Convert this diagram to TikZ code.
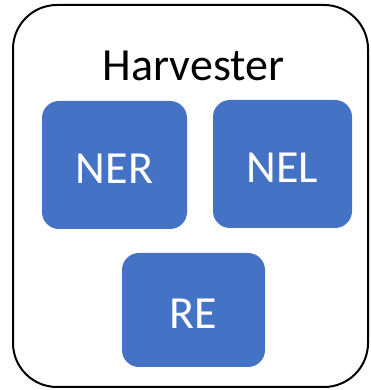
\documentclass[tikz,border=0pt]{standalone}
\usepackage{fontspec}
\setmainfont{Carlito}
\definecolor{officeblue}{HTML}{4472C4}
\tikzset{
  frame/.style={draw=black, line width=2pt, rounded corners=44pt},
  module/.style={fill=officeblue, draw=none, rounded corners=17pt,
    text=white, font=\fontsize{46}{54}\selectfont, inner sep=0pt,
    text height=37pt, text depth=0pt},
  heading/.style={font=\fontsize{46}{54}\selectfont, inner sep=0pt}
}
\begin{document}
\begin{tikzpicture}[x=1pt,y=1pt]
  \useasboundingbox (0,0) rectangle (370,390);
  % outer container
  \draw[frame] (13,3) rectangle (368,385);
  \node[heading, anchor=base] (title) at (193.5,309) {Harvester};
  % processing modules
  \node[module, minimum width=145pt, minimum height=128pt] (ner) at (114.5,225) {NER};
  \node[module, minimum width=139pt, minimum height=128pt] (nel) at (282.5,226) {NEL};
  \node[module, minimum width=143pt, minimum height=114pt] (re) at (193.5,80) {RE};
\end{tikzpicture}
\end{document}
